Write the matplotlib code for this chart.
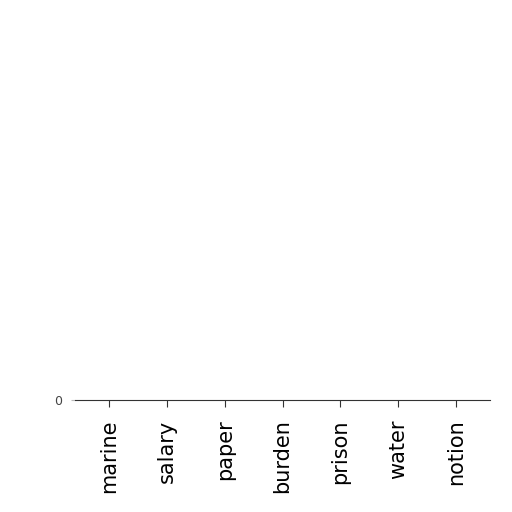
import matplotlib
matplotlib.use("Agg")
import matplotlib.pyplot as plt

categories = ["marine", "salary", "paper", "burden", "prison", "water", "notion"]
values = [0, 0, 0, 0, 0, 0, 0]

fig = plt.figure(figsize=(5.12, 5.12), dpi=100)
ax = fig.add_axes([0.146, 0.219, 0.812, 0.73])

ax.bar(range(len(categories)), values, width=0.8, color="#4c72b0")
ax.set_xlim(-0.6, 6.6)
ax.set_ylim(0, 1)
ax.set_yticks([0])
ax.set_yticklabels(["0"], fontsize=9, color="#444444")
ax.set_xticks(range(len(categories)))
ax.set_xticklabels(categories, rotation=90, fontsize=15)

for side in ("top", "right", "left"):
    ax.spines[side].set_visible(False)
ax.spines["bottom"].set_color("#333333")
ax.tick_params(axis="x", length=5, pad=9, color="#333333")
ax.tick_params(axis="y", length=3, pad=6, color="#bbbbbb")

fig.savefig("out.png", dpi=100)
